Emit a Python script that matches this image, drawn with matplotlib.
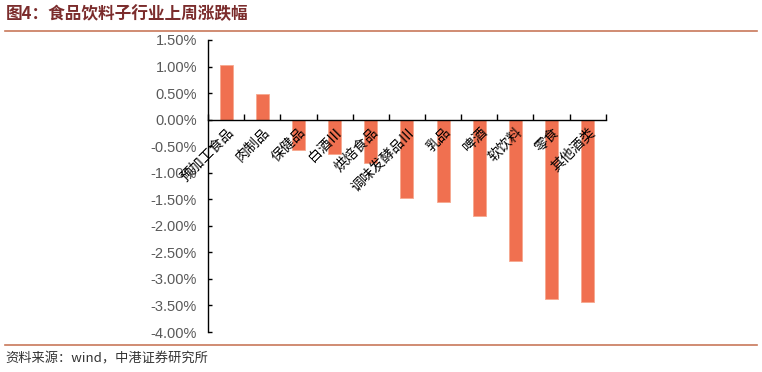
import numpy as np
import matplotlib
matplotlib.use("Agg")
import matplotlib.pyplot as plt
from matplotlib.lines import Line2D
from matplotlib.ticker import FuncFormatter

plt.rcParams['font.family'] = ['Noto Sans CJK SC', 'DejaVu Sans']

# 子行业及上周涨跌幅(%)
categories = ['预加工食品', '肉制品', '保健品', '白酒Ⅲ', '烘焙食品', '调味发酵品Ⅲ',
              '乳品', '啤酒', '软饮料', '零食', '其他酒类']
changes = [1.03, 0.49, -0.57, -0.64, -0.81, -1.47, -1.55, -1.81, -2.66, -3.37, -3.43]
yticks = [1.5, 1.0, 0.5, 0.0, -0.5, -1.0, -1.5, -2.0, -2.5, -3.0, -3.5, -4.0]

fig = plt.figure(figsize=(7.62, 3.72), dpi=100)
ax = fig.add_axes([0.273, 0.1075, 0.522, 0.785])

x = np.arange(len(categories))
ax.bar(x, changes, width=0.36, color='#F07050', edgecolor='#F6A88F', linewidth=0.6, zorder=2)

ax.set_xlim(-0.5, len(categories) - 0.5)
ax.set_ylim(-4.0, 1.5)
ax.set_yticks(yticks)
ax.yaxis.set_major_formatter(FuncFormatter(lambda v, p: f'{v:.2f}%'))

ax.spines['top'].set_visible(False)
ax.spines['right'].set_visible(False)
ax.spines['bottom'].set_position(('data', 0))
for s in ('left', 'bottom'):
    ax.spines[s].set_linewidth(1.0)
    ax.spines[s].set_color('#000000')

# 刻度放在类别之间
ax.set_xticks(np.arange(-0.5, len(categories), 1.0))
ax.set_xticklabels([])
ax.tick_params(axis='x', direction='in', length=4, width=1.0)
ax.tick_params(axis='y', direction='in', length=3, width=1.0, labelsize=10.5,
               labelcolor='#595959', pad=8)
for lab in ax.get_yticklabels():
    lab.set_family(['Liberation Sans', 'DejaVu Sans'])

# 类别标签(45度旋转)
for i, name in enumerate(categories):
    ax.text(i + 0.15, -0.2, name, rotation=45, rotation_mode='anchor',
            ha='right', va='center', fontsize=10, color='#000000', zorder=3)

# 标题与分隔线
fig.text(0.007, 0.962, '图4：食品饮料子行业上周涨跌幅', fontsize=12, fontweight='bold',
         color='#7B2C2C', ha='left', va='center')
fig.add_artist(Line2D([0.007, 0.993], [0.918, 0.918], color='#C8785A', linewidth=1.2))
fig.add_artist(Line2D([0.007, 0.993], [0.073, 0.073], color='#C8785A', linewidth=1.2))
fig.text(0.007, 0.035, '资料来源：wind，中港证券研究所', fontsize=9.5, style='italic',
         color='#333333', ha='left', va='center')

fig.savefig('out.png', dpi=100)
